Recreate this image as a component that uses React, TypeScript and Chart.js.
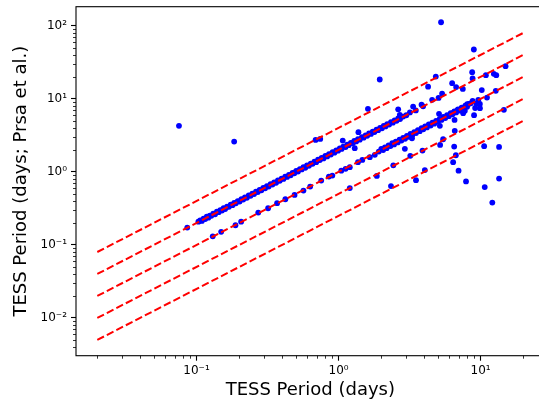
import React, { useEffect, useRef } from "react";
import { Chart, registerables } from "chart.js";

Chart.register(...registerables);

// ---- Data ----
// Dense band along y = 2x
const doubleX = [
  0.103, 0.106, 0.109, 0.112, 0.115, 0.118, 0.121, 0.124, 0.127, 0.131,
  0.135, 0.139, 0.143, 0.147, 0.151, 0.155, 0.159, 0.164, 0.169, 0.174,
  0.179, 0.184, 0.189, 0.195, 0.201, 0.207, 0.213, 0.219, 0.226, 0.233,
  0.240, 0.247, 0.254, 0.262, 0.270, 0.278, 0.286, 0.295, 0.304, 0.313,
  0.322, 0.332, 0.342, 0.352, 0.363, 0.374, 0.385, 0.397, 0.409, 0.421,
  0.434, 0.447, 0.460, 0.474, 0.488, 0.503, 0.518, 0.534, 0.550, 0.566,
  0.583, 0.600, 0.618, 0.637, 0.656, 0.676, 0.696, 0.717, 0.738, 0.760,
  0.783, 0.807, 0.831, 0.856, 0.882, 0.908, 0.935, 0.963, 0.992, 1.02,
  1.05, 1.08, 1.12, 1.15, 1.18, 1.22, 1.26, 1.29, 1.33, 1.37,
  1.41, 1.46, 1.50, 1.55, 1.59, 1.64, 1.69, 1.74, 1.79, 1.85,
  1.90, 1.96, 2.02, 2.08, 2.14, 2.20, 2.27, 2.34, 2.41, 2.48,
  2.56, 2.63, 2.71, 2.85, 3.00, 3.18, 3.35, 3.50, 3.84, 3.94,
  4.56, 5.06, 5.36,
];
const doubleY = [
  0.208, 0.216, 0.213, 0.229, 0.226, 0.243, 0.236, 0.252, 0.250, 0.268,
  0.263, 0.285, 0.281, 0.300, 0.296, 0.318, 0.310, 0.334, 0.332, 0.356,
  0.350, 0.377, 0.371, 0.398, 0.393, 0.424, 0.418, 0.447, 0.442, 0.477,
  0.471, 0.504, 0.497, 0.537, 0.530, 0.567, 0.560, 0.604, 0.597, 0.639,
  0.630, 0.680, 0.671, 0.718, 0.710, 0.766, 0.755, 0.810, 0.800, 0.862,
  0.852, 0.912, 0.900, 0.971, 0.958, 1.03, 1.01, 1.09, 1.08, 1.16,
  1.14, 1.23, 1.21, 1.30, 1.29, 1.38, 1.36, 1.47, 1.45, 1.55,
  1.53, 1.65, 1.63, 1.75, 1.73, 1.86, 1.83, 1.97, 1.95, 2.09,
  2.06, 2.21, 2.19, 2.36, 2.32, 2.49, 2.47, 2.65, 2.61, 2.80,
  2.76, 2.99, 2.94, 3.17, 3.12, 3.36, 3.31, 3.56, 3.51, 3.78,
  3.73, 4.01, 3.96, 4.25, 4.19, 4.51, 4.45, 4.78, 4.72, 5.08,
  5.01, 5.38, 5.30, 5.72, 5.96, 6.52, 7.85, 6.95, 8.30, 7.90,
  9.70, 10.3, 11.8,
];

// Band along y = x
const matchX = [
  0.130, 0.149, 0.188, 0.206, 0.272, 0.319, 0.369, 0.422, 0.490, 0.566,
  0.631, 0.755, 0.855, 0.904, 1.045, 1.12, 1.20, 1.37, 1.47, 1.66,
  1.80, 1.92, 2.00, 2.06, 2.12, 2.18, 2.25, 2.32, 2.39, 2.46,
  2.53, 2.61, 2.69, 2.77, 2.85, 2.94, 3.03, 3.12, 3.21, 3.31,
  3.41, 3.51, 3.62, 3.73, 3.84, 3.95, 4.07, 4.19, 4.32, 4.45,
  4.58, 4.72, 4.86, 5.01, 5.16, 5.31, 5.47, 5.64, 5.81, 5.98,
  6.16, 6.35, 6.54, 6.73, 6.94, 7.14, 7.36, 7.58, 7.81, 8.04,
  8.28, 8.53,
];
const matchY = [
  0.131, 0.151, 0.186, 0.208, 0.277, 0.318, 0.373, 0.422, 0.484, 0.555,
  0.629, 0.760, 0.863, 0.891, 1.04, 1.10, 1.16, 1.36, 1.46, 1.59,
  1.71, 1.90, 2.06, 1.99, 2.16, 2.11, 2.31, 2.26, 2.47, 2.38,
  2.60, 2.53, 2.77, 2.69, 2.93, 2.84, 3.12, 3.03, 3.30, 3.20,
  3.51, 3.41, 3.73, 3.61, 3.96, 3.83, 4.20, 4.06, 4.46, 4.31,
  4.72, 4.57, 5.01, 4.86, 5.32, 5.14, 5.65, 5.46, 6.00, 5.79,
  6.36, 6.15, 6.75, 6.52, 7.16, 6.92, 7.60, 7.34, 8.06, 7.79,
  8.55, 8.70,
];

// Other detections (harmonics and outliers)
const otherX = [
  0.0752, 0.184, 5.27, 8.97, 1.95, 4.84, 4.27, 6.31, 6.73, 7.5,
  8.73, 8.79, 10.9, 12.4, 12.9, 15.0, 10.2, 12.8, 11.1, 8.79,
  9.64, 9.38, 9.89, 9.16, 9.0, 14.6, 8.05, 7.75, 7.54, 6.88,
  6.49, 5.1, 2.63, 2.70, 5.17, 5.45, 6.58, 5.19, 6.52, 2.93,
  10.6, 13.5, 3.9, 3.2, 6.7, 6.41, 2.43, 7.0, 4.05, 3.51,
  2.34, 7.9, 10.7, 13.5, 12.1, 1.61, 0.689, 0.743, 1.07, 1.38,
  1.30, 1.86, 1.20, 0.086, 3.29, 6.56, 9.9,
];
const otherY = [
  4.27, 2.60, 112, 47.4, 18.4, 20.2, 14.7, 16.4, 14.5, 13.7,
  23.2, 19.0, 21.1, 22.0, 21.1, 28.0, 13.2, 12.9, 10.4, 9.4,
  9.7, 8.6, 8.5, 7.5, 5.98, 7.07, 8.46, 6.85, 6.37, 7.0,
  6.58, 6.23, 7.2, 6.04, 4.27, 2.8, 3.65, 2.34, 2.22, 2.07,
  2.25, 2.2, 1.96, 1.66, 1.69, 1.36, 1.23, 1.04, 1.06, 0.77,
  0.64, 0.74, 0.62, 0.81, 0.38, 7.3, 2.74, 2.83, 2.68, 3.5,
  2.11, 0.88, 0.60, 0.173, 2.89, 5.15, 7.45,
];

// Reference lines y = k * x
const lineFactors = [4, 2, 1, 0.5, 0.25];
const lineX = [0.02, 20];

// Axis ticks
const xMajorTicks = [0.1, 1, 10];
const xTickLabels = ["10\u207B\u00B9", "10\u2070", "10\u00B9"];
const yMajorTicks = [0.01, 0.1, 1, 10, 100];
const yTickLabels = ["10\u207B\u00B2", "10\u207B\u00B9", "10\u2070", "10\u00B9", "10\u00B2"];

const X_MIN = Math.pow(10, -1.849);
const X_MAX = Math.pow(10, 1.451);
const Y_MIN = Math.pow(10, -2.517);
const Y_MAX = Math.pow(10, 2.262);

const FONT = "'DejaVu Sans', 'Liberation Sans', sans-serif";

function logTickValues(min: number, max: number): number[] {
  const out: number[] = [];
  for (let d = -4; d <= 4; d++) {
    for (let m = 1; m <= 9; m++) {
      const v = m * Math.pow(10, d);
      if (v >= min && v <= max) out.push(v);
    }
  }
  return out;
}
function isMajor(v: number): boolean {
  const l = Math.log10(v);
  return Math.abs(l - Math.round(l)) < 1e-9;
}
function labelFor(v: number, majors: number[], labels: string[]): string {
  for (let i = 0; i < majors.length; i++) {
    if (Math.abs(Math.log10(v) - Math.log10(majors[i])) < 1e-9) return labels[i];
  }
  return "";
}

const pairs = (xs: number[], ys: number[]) => xs.map((x, i) => ({ x, y: ys[i] }));

const frameAndMinorTicks = {
  id: "frameAndMinorTicks",
  afterDraw(chart: any) {
    const { ctx, chartArea, scales } = chart;
    ctx.save();
    ctx.strokeStyle = "#000";
    ctx.lineWidth = 0.8;
    const xs = scales.x;
    for (const v of logTickValues(X_MIN, X_MAX)) {
      if (isMajor(v)) continue;
      const px = Math.round(xs.getPixelForValue(v)) + 0.5;
      ctx.beginPath();
      ctx.moveTo(px, chartArea.bottom);
      ctx.lineTo(px, chartArea.bottom + 3);
      ctx.stroke();
    }
    const ysc = scales.y;
    for (const v of logTickValues(Y_MIN, Y_MAX)) {
      if (isMajor(v)) continue;
      const py = Math.round(ysc.getPixelForValue(v)) + 0.5;
      ctx.beginPath();
      ctx.moveTo(chartArea.left, py);
      ctx.lineTo(chartArea.left - 3, py);
      ctx.stroke();
    }
    ctx.lineWidth = 1.1;
    ctx.strokeRect(chartArea.left, chartArea.top, chartArea.right - chartArea.left, chartArea.bottom - chartArea.top);
    ctx.restore();
  },
};

export default function App() {
  const canvasRef = useRef<HTMLCanvasElement | null>(null);

  useEffect(() => {
    document.body.style.margin = "0";
    const canvas = canvasRef.current;
    if (!canvas) return;

    const lineDatasets = lineFactors.map((k) => ({
      type: "line" as const,
      data: lineX.map((x) => ({ x, y: k * x })),
      borderColor: "#ff0000",
      borderWidth: 2,
      borderDash: [7.5, 3.2],
      pointRadius: 0,
      fill: false,
      order: 1,
    }));

    const points = [
      ...pairs(doubleX, doubleY),
      ...pairs(matchX, matchY),
      ...pairs(otherX, otherY),
    ];

    const chart = new Chart(canvas, {
      type: "scatter",
      data: {
        datasets: [
          {
            type: "scatter" as const,
            data: points,
            backgroundColor: "#0000ff",
            borderColor: "#0000ff",
            borderWidth: 0,
            pointRadius: 2.9,
            order: 2,
          },
          ...lineDatasets,
        ] as any,
      },
      options: {
        responsive: false,
        animation: false,
        devicePixelRatio: 1,
        layout: { padding: { left: 0, top: 6.7, right: 15.4, bottom: 0 } },
        plugins: { legend: { display: false }, tooltip: { enabled: false } },
        scales: {
          x: {
            type: "logarithmic",
            min: X_MIN,
            max: X_MAX,
            afterBuildTicks: (scale: any) => {
              scale.ticks = logTickValues(X_MIN, X_MAX).map((v) => ({ value: v }));
            },
            afterFit: (scale: any) => {
              scale.height = 45.3;
              scale.paddingLeft = 0;
              scale.paddingRight = 0;
              scale.paddingTop = 0;
              scale.paddingBottom = 0;
            },
            ticks: {
              autoSkip: false,
              maxRotation: 0,
              minRotation: 0,
              padding: 3,
              color: "#000",
              font: { family: FONT, size: 12 },
              callback: (v: any) => labelFor(Number(v), xMajorTicks, xTickLabels),
            },
            grid: {
              drawOnChartArea: false,
              drawTicks: true,
              tickLength: 5,
              tickWidth: 1.1,
              tickColor: (ctx: any) => (ctx.tick && isMajor(ctx.tick.value) ? "#000" : "rgba(0,0,0,0)"),
            },
            border: { display: false },
            title: {
              display: true,
              text: "TESS Period (days)",
              color: "#000",
              font: { family: FONT, size: 18 },
              padding: { top: 0, bottom: 0 },
            },
          },
          y: {
            type: "logarithmic",
            min: Y_MIN,
            max: Y_MAX,
            afterBuildTicks: (scale: any) => {
              scale.ticks = logTickValues(Y_MIN, Y_MAX).map((v) => ({ value: v }));
            },
            afterFit: (scale: any) => {
              scale.width = 76;
              scale.paddingLeft = 0;
              scale.paddingRight = 0;
              scale.paddingTop = 0;
              scale.paddingBottom = 0;
            },
            ticks: {
              autoSkip: false,
              padding: 4,
              color: "#000",
              font: { family: FONT, size: 12 },
              callback: (v: any) => labelFor(Number(v), yMajorTicks, yTickLabels),
            },
            grid: {
              drawOnChartArea: false,
              drawTicks: true,
              tickLength: 5,
              tickWidth: 1.1,
              tickColor: (ctx: any) => (ctx.tick && isMajor(ctx.tick.value) ? "#000" : "rgba(0,0,0,0)"),
            },
            border: { display: false },
            title: {
              display: true,
              text: "TESS Period (days; Prsa et al.)",
              color: "#000",
              font: { family: FONT, size: 18 },
              padding: { top: 10.3, bottom: 0 },
            },
          },
        },
      } as any,
      plugins: [frameAndMinorTicks],
    });

    return () => chart.destroy();
  }, []);

  return (
    <div style={{ width: 539, height: 401, overflow: "hidden", position: "relative", background: "#fff" }}>
      <canvas ref={canvasRef} width={560} height={401} style={{ display: "block", width: 560, height: 401 }} />
    </div>
  );
}
